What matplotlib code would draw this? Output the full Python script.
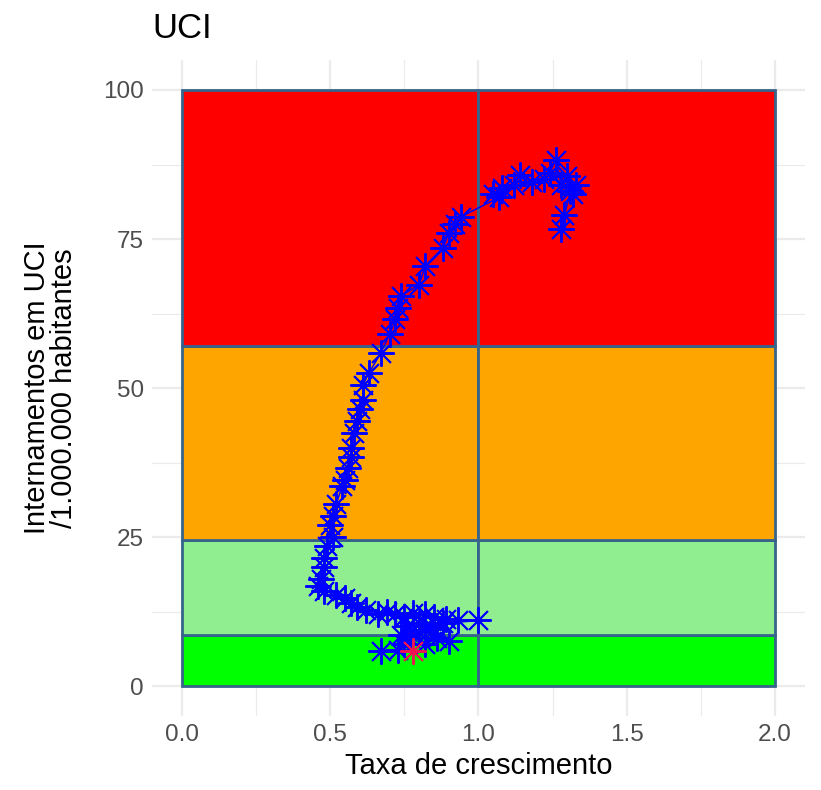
import matplotlib.pyplot as plt
from matplotlib.patches import Rectangle
from matplotlib.ticker import MultipleLocator

plt.rcParams['font.family'] = ['Liberation Sans', 'DejaVu Sans']

# Risk bands (y limits) and their colours
band_edges = [0, 8.5, 24.5, 57, 100]
band_colors = ['#00FF00', '#90EE90', '#FFA500', '#FF0000']
col_edges = [0, 1, 2]

# Trajectory: growth rate (x) vs ICU admissions per 1,000,000 (y)
taxa = [1.28, 1.29, 1.31, 1.33, 1.30, 1.32, 1.28, 1.26, 1.24, 1.22, 1.18,
        1.14, 1.12, 1.08, 1.05, 1.07, 0.94, 0.92, 0.90, 0.88, 0.82, 0.80,
        0.74, 0.73, 0.72, 0.70, 0.67, 0.63, 0.61, 0.61, 0.60, 0.59, 0.58,
        0.57, 0.57, 0.56, 0.55, 0.54, 0.52, 0.51, 0.50, 0.51, 0.49, 0.48,
        0.48, 0.47, 0.46, 0.48, 0.52, 0.55, 0.57, 0.59, 0.62, 0.66, 0.69,
        0.72, 0.75, 0.78, 0.82, 0.85, 0.89, 0.93, 1.00, 0.88, 0.84, 0.80,
        0.76, 0.74, 0.77, 0.82, 0.86, 0.90, 0.85, 0.80, 0.75, 0.73, 0.67,
        0.78]
uci = [76.7, 79.0, 83.0, 84.0, 85.5, 82.5, 84.0, 88.3, 86.0, 85.0, 84.5,
       85.8, 84.0, 83.5, 82.5, 82.0, 78.7, 77.5, 76.0, 73.5, 70.5, 67.3,
       65.5, 63.5, 61.5, 59.0, 55.8, 52.5, 50.5, 48.0, 46.5, 44.5, 42.5,
       40.0, 38.5, 36.5, 34.5, 33.5, 30.5, 28.5, 27.0, 25.0, 23.5, 21.5,
       20.0, 18.0, 16.8, 16.0, 15.2, 14.8, 14.0, 13.2, 12.7, 12.0, 12.5,
       12.0, 11.5, 12.2, 12.0, 11.6, 11.3, 11.0, 11.0, 10.5, 9.8, 9.0,
       10.0, 8.5, 8.0, 7.0, 8.0, 7.5, 9.5, 10.5, 7.0, 6.0, 5.8,
       5.8]

fig = plt.figure(figsize=(8.21, 7.90), dpi=100)
ax = fig.add_axes([0.1856, 0.0939, 0.7944, 0.8299])

edge = '#36648B'
for i in range(len(band_colors)):
    for j in range(len(col_edges) - 1):
        ax.add_patch(Rectangle((col_edges[j], band_edges[i]),
                               col_edges[j + 1] - col_edges[j],
                               band_edges[i + 1] - band_edges[i],
                               facecolor=band_colors[i], edgecolor=edge,
                               linewidth=2, zorder=2))

ax.plot(taxa, uci, color='blue', lw=1.1, zorder=3)
ax.plot(taxa[:-1], uci[:-1], linestyle='none', marker=(8, 2, 0), ms=19,
        mew=1.4, color='blue', zorder=4)
ax.plot(taxa[-1:], uci[-1:], linestyle='none', marker=(8, 2, 0), ms=19,
        mew=1.4, color='#EE1452', zorder=5)

ax.set_xlim(-0.1, 2.1)
ax.set_ylim(-5, 105)
ax.xaxis.set_minor_locator(MultipleLocator(0.25))
ax.yaxis.set_minor_locator(MultipleLocator(12.5))
ax.set_xticks([0, 0.5, 1.0, 1.5, 2.0])
ax.set_xticklabels(['0.0', '0.5', '1.0', '1.5', '2.0'])
ax.set_yticks([0, 25, 50, 75, 100])

ax.grid(True, which='major', color='#EBEBEB', lw=1.6, zorder=0)
ax.grid(True, which='minor', color='#EBEBEB', lw=0.8, zorder=0)
ax.set_axisbelow(True)
for s in ax.spines.values():
    s.set_visible(False)
ax.tick_params(which='both', length=0, labelsize=17.5, labelcolor='#4D4D4D',
               pad=6)

ax.set_title('UCI', loc='left', fontsize=25, pad=16)
ax.set_xlabel('Taxa de crescimento', fontsize=21, labelpad=4)
ax.set_ylabel('Internamentos em UCI\n/1.000.000 habitantes', fontsize=21,
              labelpad=18, linespacing=0.95)

fig.savefig('out.png', dpi=100)
